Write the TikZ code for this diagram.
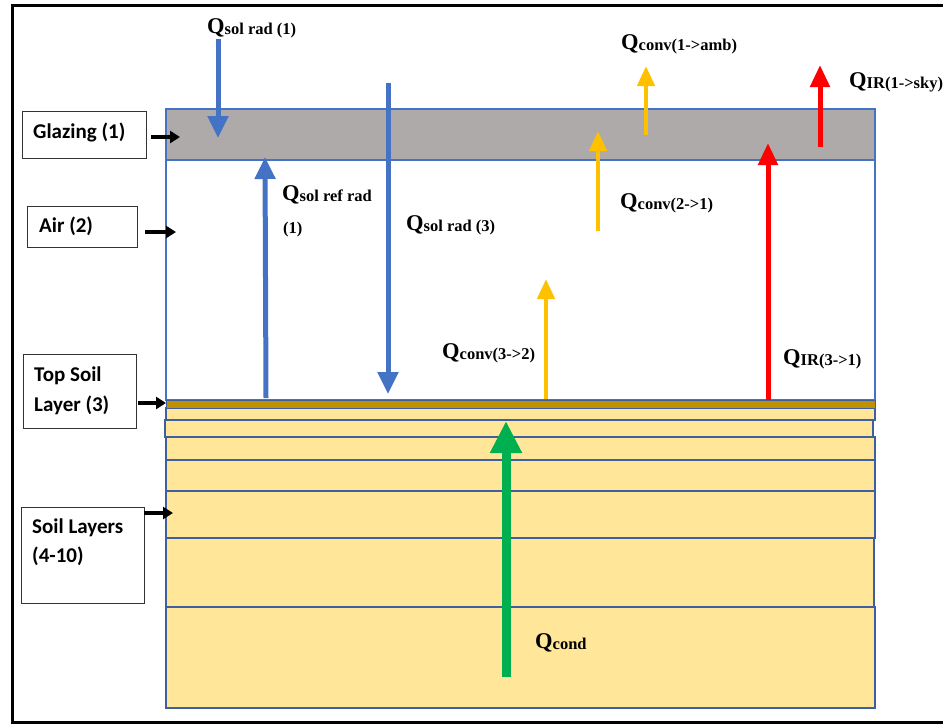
\documentclass[tikz,border=0pt]{standalone}
\usepackage{fontspec}
\setmainfont{Liberation Serif}
\newfontfamily\lblfont{Carlito}
\usetikzlibrary{arrows.meta}

\definecolor{flowblue}{HTML}{4472C4}
\definecolor{flowgold}{HTML}{FFC000}
\definecolor{flowred}{HTML}{FF0000}
\definecolor{flowgreen}{HTML}{00B050}
\definecolor{glassgray}{HTML}{AEAAAA}
\definecolor{soilfill}{HTML}{FFE699}
\definecolor{topsoil}{HTML}{BF9000}
\definecolor{edgeblue}{HTML}{3F5F9F}

% heat-flow symbol: large bold Q with a smaller bold subscript
\newcommand{\heatQ}[1]{\textbf{{\fontsize{22.5}{22}\selectfont Q}\raisebox{-1.5pt}{\fontsize{16.5}{16}\selectfont #1}}}

\begin{document}
\begin{tikzpicture}[x=1pt,y=-1pt,
  layer/.style={fill=soilfill,draw=edgeblue,line width=1.4pt},
  labelbox/.style={draw=black!80,line width=0.8pt,fill=white},
  lbltext/.style={font=\lblfont\bfseries\fontsize{21}{30}\selectfont,anchor=base west,inner sep=0pt},
  pointer/.style={draw=black,line width=3.6pt,-{Triangle[width=12pt,length=10pt]}},
  blueflow/.style={draw=flowblue,line width=5pt,-{Triangle[width=20pt,length=22pt]}},
  goldflow/.style={draw=flowgold,line width=4.5pt,-{Triangle[width=17pt,length=20pt]}},
  redflow/.style={draw=flowred,line width=5pt,-{Triangle[width=19pt,length=22pt]}},
  greenflow/.style={draw=flowgreen,line width=9pt,-{Triangle[width=30pt,length=32pt]}},
  qlabel/.style={anchor=base west,inner sep=0pt}]

\useasboundingbox (0,0) rectangle (943,724);
\fill[white] (0,0) rectangle (943,724);

% outer frame (open on the right)
\draw[line width=3pt,black] (960,5) -- (12,5) -- (12,722) -- (960,722);

% glazing and air gap
\fill[glassgray] (166,109) rectangle (875,160);
\draw[flowblue,line width=1.3pt] (166,109) rectangle (875,160);
\draw[flowblue,line width=1.3pt] (166,160) rectangle (875,400);

% soil layers 4-10
\draw[layer] (166,607) rectangle (875,708);
\draw[layer] (166,538) rectangle (874,607);
\draw[layer] (166,491) rectangle (875,538);
\draw[layer] (166,460) rectangle (875,491);
\draw[layer] (166,437) rectangle (875,460);
\draw[layer] (165,420) rectangle (873,437);
\draw[layer] (166,408) rectangle (875,420);
% top soil layer 3
\draw[fill=topsoil,draw=edgeblue,line width=1pt] (166,400) rectangle (875,408);

% side labels
\node[labelbox,minimum width=124pt,minimum height=47pt] (glz) at (84,134.5) {};
\node[lbltext] at (33,138) {Glazing (1)};
\node[labelbox,minimum width=110pt,minimum height=41pt] (air) at (82,226.5) {};
\node[lbltext] at (39,232) {Air (2)};
\node[labelbox,minimum width=113pt,minimum height=74pt] (tsl) at (79.5,391) {};
\node[lbltext] at (34,381) {Top Soil};
\node[lbltext] at (34,411) {Layer (3)};
\node[labelbox,minimum width=123pt,minimum height=96pt] (sl) at (82.5,555) {};
\node[lbltext] at (32,533) {Soil Layers};
\node[lbltext] at (32,562) {(4-10)};

\coordinate (glzT) at (180,137);
\coordinate (airT) at (176,232);
\coordinate (tslT) at (166,403);
\coordinate (slT) at (173,513);
\draw[pointer] ([xshift=5pt]glz.east |- glzT) -- (glzT);
\draw[pointer] ([xshift=8pt]air.east |- airT) -- (airT);
\draw[pointer] ([xshift=2pt]tsl.east |- tslT) -- (tslT);
\draw[pointer] (sl.east |- slT) -- (slT);

% flow end points
\coordinate (sr1a) at (218,39);   \coordinate (sr1b) at (218,138);
\coordinate (srra) at (266,398);  \coordinate (srrb) at (265,157);
\coordinate (sr3a) at (388,83);   \coordinate (sr3b) at (388,394);
\coordinate (c32a) at (546,399);  \coordinate (c32b) at (546,279);
\coordinate (c21a) at (598,231);  \coordinate (c21b) at (598,131);
\coordinate (c1aa) at (646,135);  \coordinate (c1ab) at (646,66);
\coordinate (ir31a) at (768,400); \coordinate (ir31b) at (768,143);
\coordinate (ir1sa) at (820,147); \coordinate (ir1sb) at (820,65);
\coordinate (cda) at (506,677);   \coordinate (cdb) at (506,421);

\draw[blueflow] (sr1a) -- (sr1b);
\draw[blueflow] (srra) -- (srrb);
\draw[blueflow] (sr3a) -- (sr3b);
\draw[goldflow] (c32a) -- (c32b);
\draw[goldflow] (c21a) -- (c21b);
\draw[goldflow] (c1aa) -- (c1ab);
\draw[redflow] (ir31a) -- (ir31b);
\draw[redflow] (ir1sa) -- (ir1sb);
\draw[greenflow] (cda) -- (cdb);

% flow labels
\node[qlabel] (lsr1) at (207,33) {\heatQ{sol rad (1)}};
\node[qlabel] (lsrr) at (282,200) {\heatQ{sol ref rad}};
\node[qlabel] (lsrr2) at (283,233) {\textbf{\fontsize{16.5}{16}\selectfont (1)}};
\node[qlabel] (lsr3) at (406,230) {\heatQ{sol rad (3)}};
\node[qlabel] (lc32) at (442,358) {\heatQ{conv(3->2)}};
\node[qlabel] (lc21) at (620,208) {\heatQ{conv(2->1)}};
\node[qlabel] (lc1a) at (621,49) {\heatQ{conv(1->amb)}};
\node[qlabel] (lir31) at (783,364) {\heatQ{IR(3->1)}};
\node[qlabel] (lir1s) at (849,87) {\heatQ{IR(1->sky)}};
\node[qlabel] (lcd) at (535,648) {\heatQ{cond}};

\end{tikzpicture}
\end{document}
